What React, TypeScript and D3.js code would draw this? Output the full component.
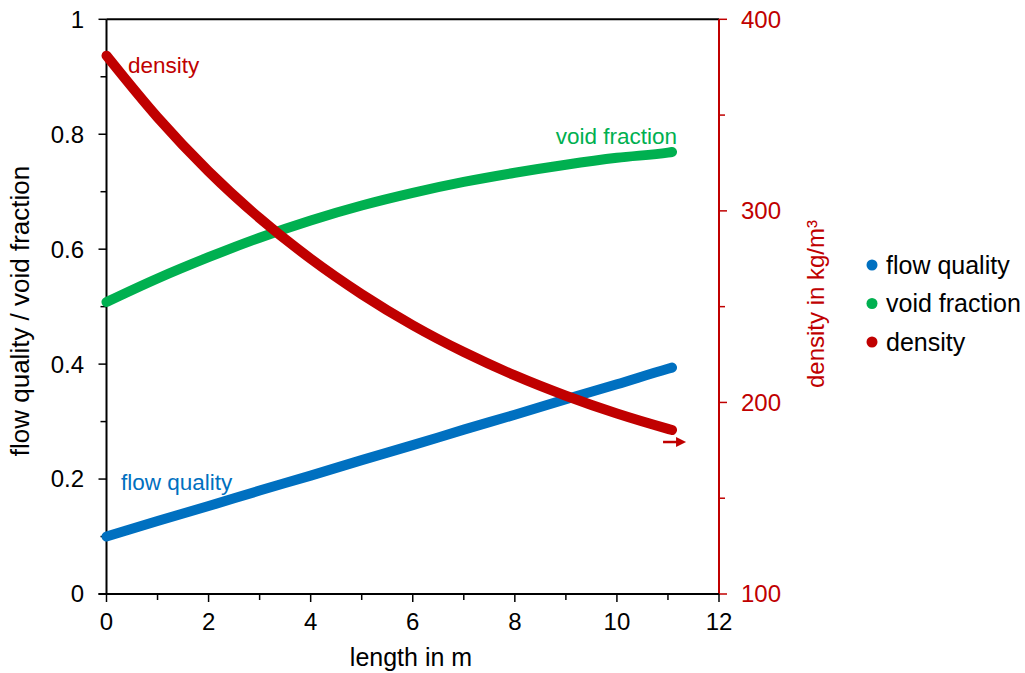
import React from "react";
import * as d3 from "d3";

const lengthM = [0, 1, 2, 3, 4, 5, 6, 7, 8, 9, 10, 11, 11.08];
const flowQuality = [0.1, 0.127, 0.153, 0.18, 0.206, 0.233, 0.259, 0.286, 0.312, 0.339, 0.365, 0.392, 0.394];
const voidFraction = [0.508, 0.549, 0.586, 0.62, 0.65, 0.676, 0.698, 0.717, 0.733, 0.747, 0.759, 0.768, 0.769];
const density = [381, 348.8, 320.6, 296.2, 275, 256.5, 240.3, 226.3, 214.1, 203.5, 194.2, 186.2, 185.6];

const xTicks = [0, 2, 4, 6, 8, 10, 12];
const xMinor = [1, 3, 5, 7, 9, 11];
const yLeftTicks = [0, 0.2, 0.4, 0.6, 0.8, 1];
const yLeftMinor = [0.1, 0.3, 0.5, 0.7, 0.9];
const yRightTicks = [100, 200, 300, 400];
const yRightMinor = [150, 250, 350];

const seriesNames = ["flow quality", "void fraction", "density"];
const colors = ["#0070C0", "#00B050", "#C00000"];

const FONT = "'Liberation Sans', Arial, sans-serif";

export default function App() {
  const left = 106.5, right = 719, top = 19.3, bottom = 594;
  const x = d3.scaleLinear().domain([0, 12]).range([left, right]);
  const yL = d3.scaleLinear().domain([0, 1]).range([bottom, top]);
  const yR = d3.scaleLinear().domain([100, 400]).range([bottom, top]);

  const mk = (vals: number[], y: d3.ScaleLinear<number, number>) =>
    d3.line<number>().x((_, i) => x(lengthM[i])).y((v) => y(v)).curve(d3.curveMonotoneX)(vals) || "";

  const black = "#000";
  const red = colors[2];
  const lastI = lengthM.length - 1;
  const ax = x(lengthM[lastI]);
  const ay = yR(density[lastI]) + 12;

  return (
    <svg width={1025} height={673} style={{ position: "absolute", left: 0, top: 0, background: "#fff" }} fontFamily={FONT}>
      <rect width={1025} height={673} fill="#fff" />
      {/* top border */}
      <line x1={left} x2={right} y1={top} y2={top} stroke={black} strokeWidth={2} />
      {/* left axis */}
      <line x1={left} x2={left} y1={top} y2={bottom} stroke={black} strokeWidth={2} />
      {yLeftTicks.map((t) => (
        <g key={"yl" + t}>
          <line x1={left - 8} x2={left} y1={yL(t)} y2={yL(t)} stroke={black} strokeWidth={1.5} />
          <text x={84} y={yL(t)} dy="0.35em" textAnchor="end" fontSize={24} fill="#000">{String(t)}</text>
        </g>
      ))}
      {yLeftMinor.map((t) => (
        <line key={"ylm" + t} x1={left - 6} x2={left} y1={yL(t)} y2={yL(t)} stroke={black} strokeWidth={1.5} />
      ))}
      {/* right axis */}
      <line x1={right} x2={right} y1={top} y2={bottom} stroke={red} strokeWidth={2} />
      {yRightTicks.map((t) => (
        <g key={"yr" + t}>
          <line x1={right} x2={right + 8} y1={yR(t)} y2={yR(t)} stroke={red} strokeWidth={1.5} />
          <text x={741} y={yR(t)} dy="0.35em" textAnchor="start" fontSize={24} fill={red}>{t}</text>
        </g>
      ))}
      {yRightMinor.map((t) => (
        <line key={"yrm" + t} x1={right} x2={right + 6} y1={yR(t)} y2={yR(t)} stroke={red} strokeWidth={1.5} />
      ))}
      {/* bottom axis */}
      <line x1={left - 8} x2={right} y1={bottom} y2={bottom} stroke={black} strokeWidth={2} />
      {xTicks.map((t) => (
        <g key={"x" + t}>
          <line x1={x(t)} x2={x(t)} y1={bottom} y2={bottom + 8} stroke={black} strokeWidth={1.5} />
          <text x={x(t)} y={bottom + 36} textAnchor="middle" fontSize={24} fill="#000">{t}</text>
        </g>
      ))}
      {xMinor.map((t) => (
        <line key={"xm" + t} x1={x(t)} x2={x(t)} y1={bottom} y2={bottom + 6} stroke={black} strokeWidth={1.5} />
      ))}
      {/* axis titles */}
      <text x={411} y={666} textAnchor="middle" fontSize={25} fill="#000">length in m</text>
      <text transform="translate(29,311) rotate(-90)" textAnchor="middle" fontSize={26} fill="#000">flow quality / void fraction</text>
      <text transform="translate(824,304) rotate(-90)" textAnchor="middle" fontSize={24} fill={red}>density in kg/m³</text>

      {/* series */}
      <path d={mk(voidFraction, yL)} fill="none" stroke={colors[1]} strokeWidth={10} strokeLinecap="round" strokeLinejoin="round" />
      <path d={mk(flowQuality, yL)} fill="none" stroke={colors[0]} strokeWidth={10} strokeLinecap="round" strokeLinejoin="round" />
      <path d={mk(density, yR)} fill="none" stroke={colors[2]} strokeWidth={10} strokeLinecap="round" strokeLinejoin="round" />

      {/* arrow to right axis */}
      <line x1={ax - 9} x2={ax + 6} y1={ay} y2={ay} stroke={red} strokeWidth={2.5} />
      <path d={`M${ax + 14},${ay} L${ax + 4},${ay - 5} L${ax + 4},${ay + 5} Z`} fill={red} />

      {/* in-plot labels */}
      <text x={128} y={73} fontSize={22.5} fill={colors[2]}>density</text>
      <text x={677} y={144} textAnchor="end" fontSize={22.5} fill={colors[1]}>void fraction</text>
      <text x={121} y={490} fontSize={22.5} fill={colors[0]}>flow quality</text>

      {/* legend */}
      {seriesNames.map((n, i) => (
        <g key={n} transform={`translate(872,${265 + i * 38.5})`}>
          <circle r={5.5} fill={colors[i]} />
          <text x={14} dy="0.35em" fontSize={25} fill="#000">{n}</text>
        </g>
      ))}
    </svg>
  );
}
